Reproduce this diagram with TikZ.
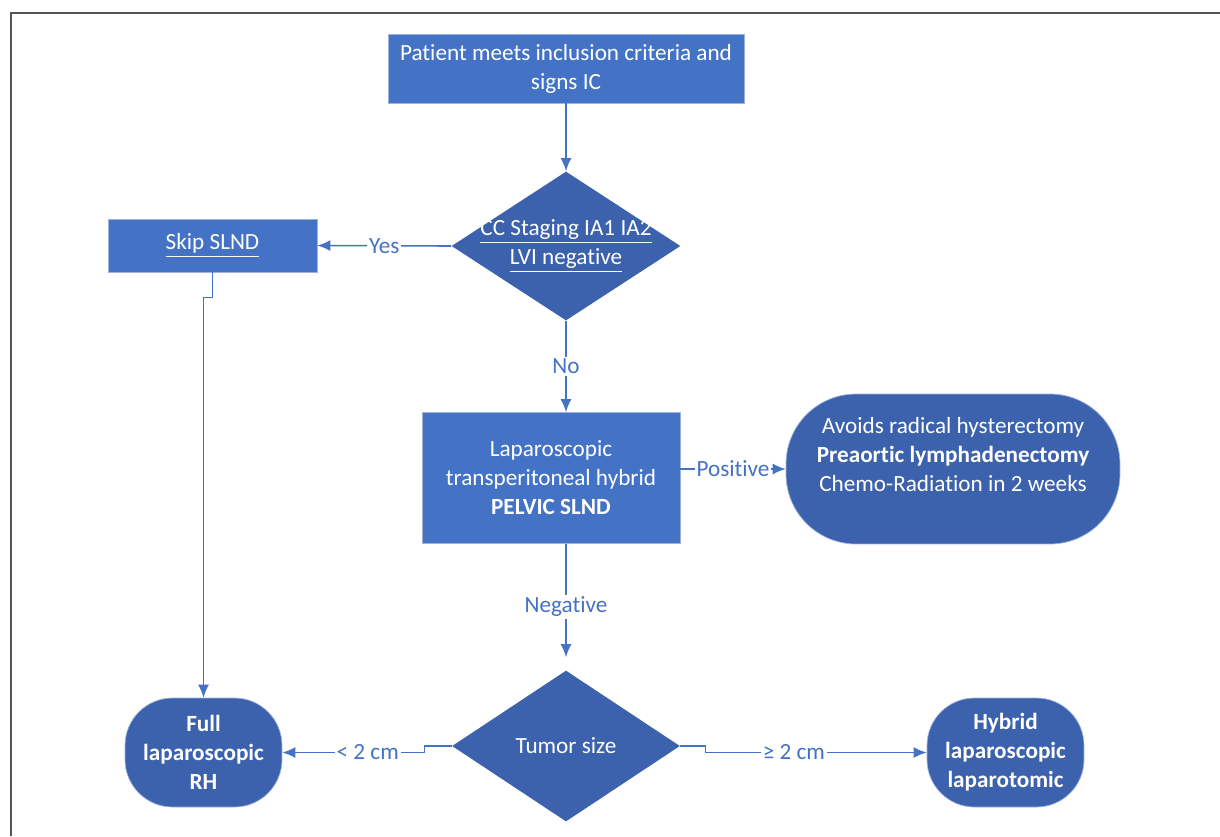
\documentclass[tikz,border=0pt]{standalone}
\usepackage{fontspec}
\setmainfont{Carlito}[Ligatures=NoCommon]
\usetikzlibrary{shapes.geometric,arrows.meta}
\definecolor{boxblue}{HTML}{4472C4}
\definecolor{darkblue}{HTML}{3C62AE}
\definecolor{edgeblue}{HTML}{9DB3DE}
\definecolor{framegray}{HTML}{555555}

\begin{document}
\begin{tikzpicture}[x=0.02cm, y=-0.02cm,
    every node/.style={font=\fontsize{13.2}{16.5}\selectfont, align=center},
    procbox/.style={rectangle, fill=boxblue, draw=edgeblue, line width=0.4pt, text=white},
    decision/.style={diamond, fill=darkblue, text=white, inner sep=-0.15cm, aspect=1.53},
    outcome/.style={rectangle, rounded corners=#1, fill=darkblue, draw=edgeblue, line width=0.4pt, text=white},
    outcome/.default=0.95cm,
    flow/.style={draw=boxblue, line width=0.9pt, -{Latex[length=0.26cm, width=0.22cm]}},
    lbl/.style={fill=white, text=boxblue, inner sep=1pt}]
    \useasboundingbox (0,0) rectangle (1220,836);
    \draw[framegray, line width=1.2pt] (11,836) -- (11,13) -- (1220,13);

    \node[procbox, minimum width=7.12cm, minimum height=1.38cm] (start) at (566,68.5)
        {Patient meets inclusion criteria and\\signs IC};
    \node[decision, minimum width=4.58cm, minimum height=2.98cm] (crit) at (566,246)
        {\underline{CC Staging IA1 IA2}\\\underline{LVI negative}};
    \node[procbox, minimum width=4.18cm, minimum height=1.06cm] (skip) at (212.5,245.5)
        {\underline{Skip SLND}};
    \node[procbox, minimum width=5.16cm, minimum height=2.62cm] (lap) at (551,478)
        {Laparoscopic\\transperitoneal hybrid\\\textbf{PELVIC SLND}};
    \node[outcome=1.4cm, minimum width=6.68cm, minimum height=3cm] (radio) at (953,469)
        {Avoids radical hysterectomy\\\textbf{Preaortic lymphadenectomy}\\Chemo-Radiation in 2 weeks\\\mbox{}};
    \node[decision, minimum width=4.56cm, minimum height=3.02cm] (tumor) at (566,746)
        {Tumor size};
    \node[outcome, minimum width=3.14cm, minimum height=2.18cm] (full) at (203.5,752.5)
        {\textbf{Full}\\\textbf{laparoscopic}\\\textbf{RH}};
    \node[outcome, minimum width=3.14cm, minimum height=2.18cm] (hybrid) at (1005.5,752.5)
        {\textbf{Hybrid}\\\textbf{laparoscopic}\\\textbf{laparotomic}};

    \draw[flow] (start.south) -- (crit.north);
    \draw[flow] (crit.west) -- node[lbl]{Yes} (skip.east);
    \draw[flow] (crit.south) -- node[lbl]{No} (crit.south |- lap.north);
    \draw[flow] (lap.east |- radio.west) -- node[lbl]{Positive} (radio.west);
    \draw[flow, shorten >=0.26cm] (lap.south -| tumor.north) -- node[lbl]{Negative} (tumor.north);
    \draw[flow] (skip.south) -- ++(0,25) -| (full.north);
    \draw[flow] (tumor.west) -- ++(-27,0) coordinate (lkink) -- (lkink |- full.east)
        -- node[lbl, pos=0.4]{< 2 cm} (full.east);
    \draw[flow] (tumor.east) -- ++(25,0) coordinate (rkink) -- (rkink |- hybrid.west)
        -- node[lbl, pos=0.4]{≥ 2 cm} (hybrid.west);
\end{tikzpicture}
\end{document}
